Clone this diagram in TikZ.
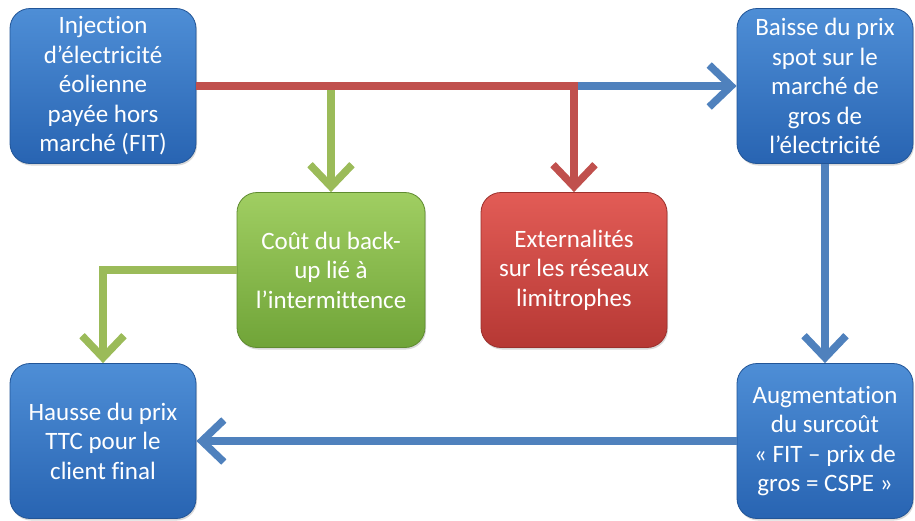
\documentclass[tikz,border=0pt]{standalone}
\usepackage{fontspec}
\setmainfont[Ligatures={NoCommon}]{Carlito}
\usetikzlibrary{arrows.meta,shadows}
\definecolor{arrblue}{RGB}{79,129,189}
\definecolor{arrred}{RGB}{192,80,77}
\definecolor{arrgreen}{RGB}{155,187,89}
\definecolor{bluetop}{RGB}{78,142,214}
\definecolor{bluebot}{RGB}{40,100,178}
\definecolor{greentop}{RGB}{160,206,98}
\definecolor{greenbot}{RGB}{112,164,56}
\definecolor{redtop}{RGB}{226,92,86}
\definecolor{redbot}{RGB}{182,56,52}
\tikzset{
  box/.style={rounded corners=20pt,align=center,text=white,
              font=\fontsize{25}{29.5}\selectfont,minimum width=186pt,
              minimum height=155pt,line width=0.8pt,
              drop shadow={shadow xshift=1pt,shadow yshift=-2pt,opacity=.3}},
  bluebox/.style={box,draw=bluebot!85!black,top color=bluetop,bottom color=bluebot},
  greenbox/.style={box,draw=greenbot!85!black,top color=greentop,bottom color=greenbot},
  redbox/.style={box,draw=redbot!85!black,top color=redtop,bottom color=redbot},
  arr/.style={line width=8pt,-{Straight Barb[length=22pt,width=42pt,line width=7.5pt]}}
}

\begin{document}
\begin{tikzpicture}[x=1pt,y=-1pt]
  \useasboundingbox (0,0) rectangle (915,520);
  \node[bluebox] (inj) at (103,86)
    {Injection\\d’électricité\\éolienne\\payée hors\\marché (FIT)};
  \node[bluebox,minimum width=176pt] (baisse) at (825,86)
    {Baisse du prix\\spot sur le\\marché de\\gros de\\l’électricité};
  \node[greenbox,minimum width=188pt] (cout) at (331,270)
    {Coût du back-\\up lié à\\l’intermittence};
  \node[redbox] (ext) at (574,270)
    {Externalités\\sur les réseaux\\limitrophes};
  \node[bluebox] (hausse) at (103,441)
    {Hausse du prix\\TTC pour le\\client final};
  \node[bluebox,minimum width=176pt] (augm) at (825,441)
    {Augmentation\\du surcoût\\« FIT – prix de\\gros = CSPE »};
  \draw[arr,arrgreen] (inj.east -| cout.north) -- (cout.north);
  \draw[arr,arrblue] (inj.east -| ext.north) -- (baisse.west);
  \draw[arr,arrred] (inj.east) -| (ext.north);
  \draw[arr,arrgreen] (cout.west) -| (hausse.north);
  \draw[arr,arrblue] (baisse.south) -- (augm.north);
  \draw[arr,arrblue] (augm.west) -- (hausse.east);
\end{tikzpicture}
\end{document}
